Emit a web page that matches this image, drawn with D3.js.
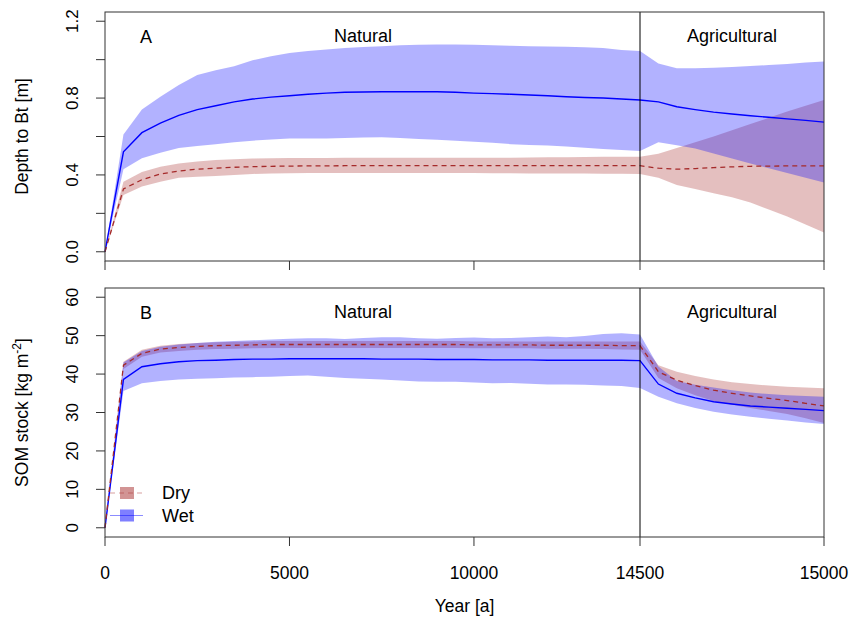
<!DOCTYPE html>
<html>
<head>
<meta charset="utf-8">
<script src="https://d3js.org/d3.v7.min.js"></script>
<style>
  body { margin: 0; background: #fff; }
  svg text { font-family: "Liberation Sans", Arial, sans-serif; fill: #000; }
</style>
</head>
<body>
<div id="chart"></div>
<script>
// years: every 500 a in the natural phase, every 50 a in the agricultural phase
const years = [0,500,1000,1500,2000,2500,3000,3500,4000,4500,5000,5500,6000,6500,7000,7500,8000,8500,9000,9500,10000,10500,11000,11500,12000,12500,13000,13500,14000,14500,
  14550,14600,14650,14700,14750,14800,14850,14900,14950,15000];

// Panel A: depth to Bt [m]
const depthWetMean = [0,0.52,0.62,0.67,0.71,0.74,0.76,0.78,0.795,0.805,0.812,0.82,0.826,0.83,0.832,0.833,0.833,0.833,0.833,0.83,0.826,0.823,0.82,0.816,0.812,0.807,0.803,0.8,0.795,0.79,
  0.78,0.755,0.74,0.727,0.717,0.708,0.7,0.692,0.684,0.675];
const depthWetHi = [0,0.61,0.74,0.807,0.868,0.92,0.945,0.966,0.997,1.018,1.034,1.045,1.053,1.06,1.066,1.07,1.075,1.078,1.079,1.079,1.077,1.075,1.072,1.07,1.068,1.067,1.065,1.06,1.05,1.045,
  0.98,0.955,0.955,0.958,0.962,0.967,0.972,0.978,0.985,0.99];
const depthWetLo = [0,0.43,0.487,0.515,0.54,0.55,0.56,0.57,0.578,0.585,0.59,0.59,0.59,0.592,0.595,0.596,0.592,0.587,0.583,0.578,0.573,0.567,0.56,0.556,0.553,0.548,0.542,0.535,0.53,0.525,
  0.57,0.555,0.537,0.512,0.486,0.46,0.435,0.41,0.385,0.36];
const depthDryMean = [0,0.327,0.375,0.405,0.42,0.43,0.435,0.44,0.443,0.445,0.446,0.447,0.447,0.448,0.448,0.448,0.448,0.448,0.448,0.448,0.448,0.448,0.448,0.448,0.448,0.448,0.448,0.448,0.448,0.448,
  0.435,0.43,0.433,0.438,0.442,0.445,0.446,0.447,0.447,0.447];
const depthDryHi = [0,0.365,0.415,0.443,0.46,0.47,0.478,0.482,0.485,0.487,0.488,0.488,0.488,0.489,0.489,0.489,0.489,0.489,0.489,0.49,0.49,0.49,0.49,0.491,0.492,0.492,0.493,0.494,0.494,0.495,
  0.51,0.54,0.57,0.6,0.632,0.665,0.697,0.73,0.76,0.79];
const depthDryLo = [0,0.296,0.34,0.365,0.385,0.39,0.395,0.4,0.405,0.408,0.409,0.41,0.41,0.41,0.41,0.41,0.41,0.41,0.41,0.41,0.41,0.409,0.409,0.408,0.408,0.407,0.407,0.406,0.406,0.405,
  0.385,0.348,0.327,0.305,0.284,0.256,0.22,0.183,0.142,0.1];

// Panel B: SOM stock [kg m-2]
const somWetMean = [0,38.6,41.9,42.7,43.2,43.5,43.6,43.8,43.9,43.9,44.0,44.0,44.0,44.0,44.0,43.9,43.9,43.9,43.8,43.8,43.8,43.7,43.7,43.7,43.6,43.6,43.6,43.6,43.6,43.5,
  37.4,35.0,33.8,32.8,32.2,31.7,31.4,31.1,30.8,30.5];
const somWetHi = [0,43.0,46.0,47.1,47.7,48.1,48.4,48.6,48.8,49.0,49.2,49.3,49.3,49.1,49.4,49.6,49.6,49.3,49.2,49.4,49.5,49.3,49.4,49.6,49.8,49.6,49.9,50.4,50.6,50.3,
  42.0,38.2,37.2,36.5,35.8,35.2,34.8,34.5,34.3,34.1];
const somWetLo = [0,35.6,37.6,38.2,38.6,38.8,38.9,39.1,39.2,39.3,39.5,39.6,39.3,39.0,38.8,38.6,38.3,38.1,38.0,38.0,37.8,37.6,37.7,37.5,37.3,37.3,37.2,37.0,36.9,36.4,
  34.1,32.4,31.2,30.2,29.5,28.9,28.4,27.9,27.4,27.0];
const somDryMean = [0,42.3,45.4,46.5,46.9,47.2,47.4,47.5,47.6,47.7,47.7,47.7,47.7,47.7,47.7,47.7,47.7,47.7,47.7,47.7,47.6,47.6,47.6,47.6,47.5,47.5,47.5,47.5,47.4,47.4,
  40.6,38.4,37.0,35.8,35.0,34.3,33.7,33.1,32.4,31.7];
const somDryHi = [0,43.2,46.3,47.4,47.8,48.1,48.3,48.4,48.5,48.6,48.6,48.6,48.6,48.6,48.6,48.6,48.6,48.6,48.6,48.6,48.5,48.5,48.5,48.5,48.5,48.5,48.5,48.5,48.5,48.5,
  42.3,40.6,39.5,38.6,37.9,37.4,37.0,36.7,36.5,36.3];
const somDryLo = [0,41.3,44.5,45.6,46.0,46.3,46.5,46.6,46.7,46.8,46.8,46.8,46.8,46.8,46.8,46.8,46.8,46.8,46.8,46.8,46.7,46.7,46.7,46.7,46.6,46.6,46.6,46.5,46.4,46.3,
  39.0,36.3,34.5,33.0,32.0,31.2,30.4,29.6,28.5,27.3];

const xTicks = [0,5000,10000,14500,15000];
const depthTicks = [0,0.2,0.4,0.6,0.8,1.0,1.2];
const depthLabels = [0,0.4,0.8,1.2];
const somTicks = [0,10,20,30,40,50,60];

const W = 857, H = 623;
const left = 105, right = 824;
const svg = d3.select('#chart').append('svg').attr('width',W).attr('height',H);

// piecewise x: the agricultural 500 years get their own stretch
const x = d3.scaleLinear().domain([0,14500,15000]).range([left,640,right]);

const blue = '#0000ff', red = '#a52a2a';

function panel(top, bottom, yDomain, ticks, labels, fmt, data, letter, showXLabels){
  const pad = (yDomain[1]-yDomain[0])*0.04;
  const y = d3.scaleLinear().domain([yDomain[0]-pad, yDomain[1]+pad]).range([bottom, top]);
  const g = svg.append('g');

  const area = (lo, hi) => d3.area().x((d,i)=>x(years[i])).y0((d,i)=>y(lo[i])).y1((d,i)=>y(hi[i]))(years);
  const line = (v) => d3.line().x((d,i)=>x(years[i])).y((d,i)=>y(v[i]))(years);

  g.append('path').attr('d', area(data.dryLo, data.dryHi)).attr('fill', red).attr('fill-opacity',0.3);
  g.append('path').attr('d', area(data.wetLo, data.wetHi)).attr('fill', blue).attr('fill-opacity',0.3);
  g.append('path').attr('d', line(data.wetMean)).attr('fill','none').attr('stroke',blue).attr('stroke-width',1.4);
  g.append('path').attr('d', line(data.dryMean)).attr('fill','none').attr('stroke',red).attr('stroke-width',1.3)
    .attr('stroke-dasharray','5,4');

  // phase divider
  g.append('line').attr('x1',x(14500)).attr('x2',x(14500)).attr('y1',top).attr('y2',bottom)
    .attr('stroke','#000').attr('stroke-width',1);

  // box
  g.append('rect').attr('x',left).attr('y',top).attr('width',right-left).attr('height',bottom-top)
    .attr('fill','none').attr('stroke','#333').attr('stroke-width',1);

  // y axis ticks
  g.selectAll('.yt').data(ticks).enter().append('line')
    .attr('x1',left-9).attr('x2',left).attr('y1',d=>y(d)).attr('y2',d=>y(d))
    .attr('stroke','#333');
  g.selectAll('.yl').data(labels).enter().append('text')
    .attr('transform',d=>'translate(78,'+y(d)+') rotate(-90)')
    .attr('text-anchor','middle').style('font-size','17px').text(fmt);

  // x axis ticks
  g.selectAll('.xt').data(xTicks).enter().append('line')
    .attr('x1',d=>x(d)).attr('x2',d=>x(d)).attr('y1',bottom).attr('y2',bottom+9)
    .attr('stroke','#333');
  if (showXLabels){
    g.selectAll('.xl').data(xTicks).enter().append('text')
      .attr('x',d=>x(d)).attr('y',bottom+42).attr('text-anchor','middle')
      .style('font-size','17.5px').text(d=>d);
  }

  g.append('text').attr('x',146).attr('y',top+31).attr('text-anchor','middle').style('font-size','18px').text(letter);
  g.append('text').attr('x',363).attr('y',top+30).attr('text-anchor','middle').style('font-size','18px').text('Natural');
  g.append('text').attr('x',732).attr('y',top+30).attr('text-anchor','middle').style('font-size','18px').text('Agricultural');
  return g;
}

panel(12, 261, [0,1.2], depthTicks, depthLabels, d=>d.toFixed(1),
  {wetMean:depthWetMean, wetHi:depthWetHi, wetLo:depthWetLo, dryMean:depthDryMean, dryHi:depthDryHi, dryLo:depthDryLo}, 'A', false);
panel(288, 537, [0,60], somTicks, somTicks, d=>d,
  {wetMean:somWetMean, wetHi:somWetHi, wetLo:somWetLo, dryMean:somDryMean, dryHi:somDryHi, dryLo:somDryLo}, 'B', true);

// axis titles
svg.append('text').attr('transform','translate(28,136.5) rotate(-90)').attr('text-anchor','middle')
  .style('font-size','17.5px').text('Depth to Bt [m]');
const som = svg.append('text').attr('transform','translate(28,412.5) rotate(-90)').attr('text-anchor','middle')
  .style('font-size','17.5px');
som.append('tspan').text('SOM stock [kg m');
som.append('tspan').attr('dy',-7).style('font-size','12px').text('-2');
som.append('tspan').attr('dy',7).text(']');
svg.append('text').attr('x',(left+right)/2).attr('y',612).attr('text-anchor','middle')
  .style('font-size','17.5px').text('Year [a]');

// legend
const legend = svg.append('g').selectAll('g').data([{name:'Dry',c:red,dash:'5,4'},{name:'Wet',c:blue,dash:null}])
  .enter().append('g').attr('transform',(d,i)=>'translate(0,'+(493+i*22.5)+')');
legend.append('line').attr('x1',110).attr('x2',143).attr('stroke',d=>d.c).attr('stroke-opacity',0.45)
  .attr('stroke-width',1.2).attr('stroke-dasharray',d=>d.dash);
legend.append('rect').attr('x',120).attr('y',-6).attr('width',14).attr('height',12)
  .attr('fill',d=>d.c).attr('fill-opacity',0.5);
legend.append('text').attr('x',162).attr('y',6).style('font-size','18px').text(d=>d.name);
</script>
</body>
</html>
